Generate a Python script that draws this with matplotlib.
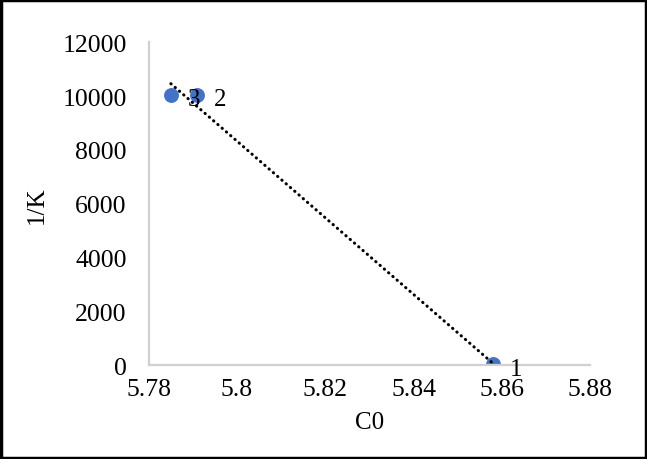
import matplotlib
matplotlib.use("Agg")
import matplotlib.pyplot as plt
import numpy as np

plt.rcParams['font.family'] = ['Liberation Serif', 'DejaVu Serif']

# data
c0 = [5.858, 5.791, 5.785]
inv_k = [30, 10050, 10050]
names = ["1", "2", "3"]

x_ticks = [5.78, 5.8, 5.82, 5.84, 5.86, 5.88]
x_tick_labels = ["5.78", "5.8", "5.82", "5.84", "5.86", "5.88"]
y_ticks = [0, 2000, 4000, 6000, 8000, 10000, 12000]

fig = plt.figure(figsize=(6.47, 4.6), dpi=100)
ax = fig.add_axes([0.230, 0.204, 0.682, 0.702])

# linear trendline (dotted), like excel
k, b = np.polyfit(c0, inv_k, 1)
xt = np.array([min(c0), max(c0)])
ax.plot(xt, k * xt + b, color='black', linewidth=2.2,
        linestyle=(0, (0.1, 1.75)), dash_capstyle='round', zorder=3)

ax.scatter(c0, inv_k, s=115, color='#4472C4', zorder=2, linewidths=0)

for x, y, n in zip(c0, inv_k, names):
    ax.annotate(n, (x, y), xytext=(12, -3), textcoords='offset points',
                fontsize=18, va='center', ha='left', zorder=4)

ax.set_xlim(5.78, 5.88)
ax.set_ylim(0, 12000)
ax.set_xticks(x_ticks)
ax.set_xticklabels(x_tick_labels)
ax.set_yticks(y_ticks)
ax.tick_params(axis='x', length=0, labelsize=18.5, pad=9)
ax.tick_params(axis='y', length=0, labelsize=18.5, pad=16)
for s in ['top', 'right']:
    ax.spines[s].set_visible(False)
for s in ['left', 'bottom']:
    ax.spines[s].set_color('#d0d0d0')
    ax.spines[s].set_linewidth(1.6)

ax.set_xlabel("C0", fontsize=18, labelpad=8)
ax.set_ylabel("1/K", fontsize=18, labelpad=10)

# black frame around the whole figure
fig.patches.append(plt.Rectangle((0.002, 0.003), 0.996, 0.994, transform=fig.transFigure,
                                 fill=False, edgecolor='black', linewidth=2.5))

fig.savefig("out.png", dpi=100)
